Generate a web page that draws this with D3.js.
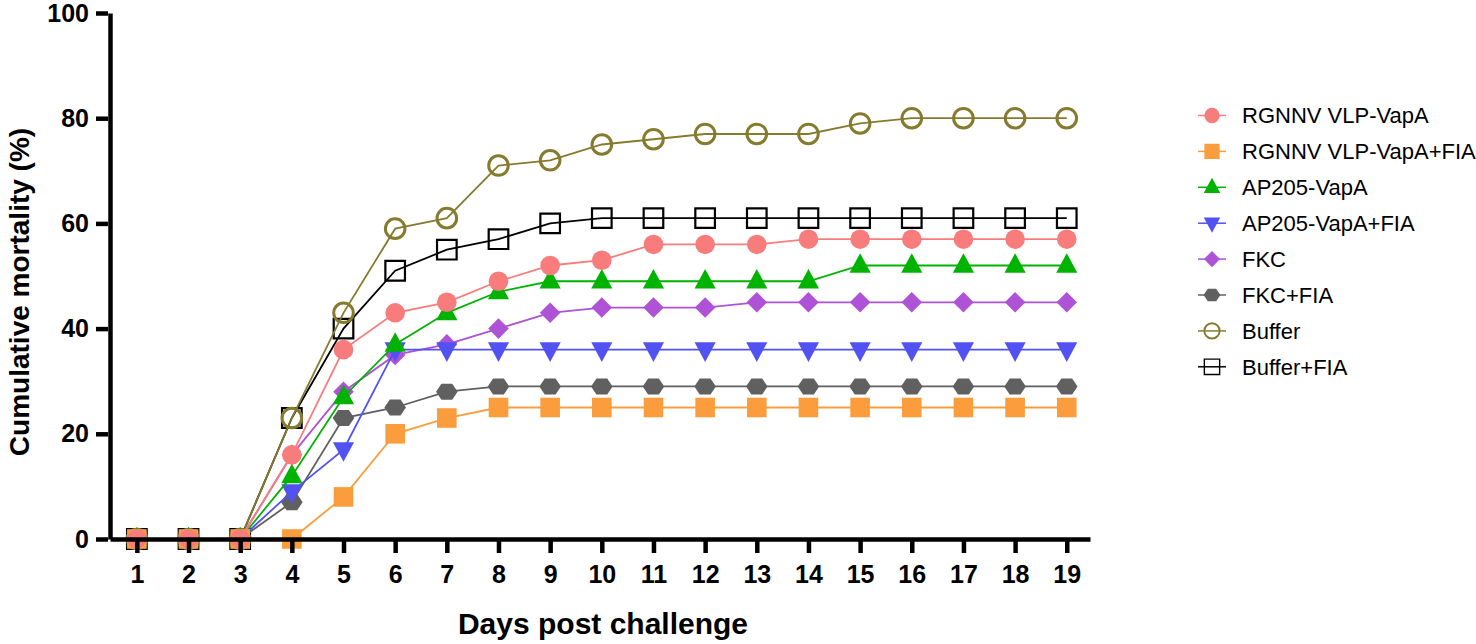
<!DOCTYPE html>
<html>
<head>
<meta charset="utf-8">
<script src="https://cdn.jsdelivr.net/npm/d3@7"></script>
<style>
  body { margin: 0; background: #fff; }
  svg { display: block; font-family: Arial, "Liberation Sans", Helvetica, sans-serif; }
</style>
</head>
<body>
<svg id="chart" width="1476" height="644"></svg>
<script>
// days on the x axis
const days = [1, 2, 3, 4, 5, 6, 7, 8, 9, 10, 11, 12, 13, 14, 15, 16, 17, 18, 19]
const yTicks = [0, 20, 40, 60, 80, 100]

// cumulative mortality (%) per group
const rgnnvVapA    = [0, 0, 0, 16, 36, 43, 45, 49, 52, 53, 56, 56, 56, 57, 57, 57, 57, 57, 57]
const rgnnvVapAFIA = [0, 0, 0, 0, 8, 20, 23, 25, 25, 25, 25, 25, 25, 25, 25, 25, 25, 25, 25]
const ap205VapA    = [0, 0, 0, 12, 27, 37, 43, 47, 49, 49, 49, 49, 49, 49, 52, 52, 52, 52, 52]
const ap205VapAFIA = [0, 0, 0, 9, 17, 36, 36, 36, 36, 36, 36, 36, 36, 36, 36, 36, 36, 36, 36]
const fkc          = [0, 0, 0, 16, 28, 35, 37, 40, 43, 44, 44, 44, 45, 45, 45, 45, 45, 45, 45]
const fkcFIA       = [0, 0, 0, 7, 23, 25, 28, 29, 29, 29, 29, 29, 29, 29, 29, 29, 29, 29, 29]
const buffer       = [0, 0, 0, 23, 43, 59, 61, 71, 72, 75, 76, 77, 77, 77, 79, 80, 80, 80, 80]
const bufferFIA    = [0, 0, 0, 23, 40, 51, 55, 57, 60, 61, 61, 61, 61, 61, 61, 61, 61, 61, 61]

const groupNames = ['RGNNV VLP-VapA', 'RGNNV VLP-VapA+FIA', 'AP205-VapA', 'AP205-VapA+FIA',
    'FKC', 'FKC+FIA', 'Buffer', 'Buffer+FIA']
const groupValues = [rgnnvVapA, rgnnvVapAFIA, ap205VapA, ap205VapAFIA, fkc, fkcFIA, buffer, bufferFIA]

// marker style per group
const styles = [
    { color: '#F87C7C', shape: 'circle', fill: true },
    { color: '#FB9D3C', shape: 'square', fill: true },
    { color: '#00B300', shape: 'triUp', fill: true },
    { color: '#5252F2', shape: 'triDown', fill: true },
    { color: '#AE52D6', shape: 'diamond', fill: true },
    { color: '#606060', shape: 'hexagon', fill: true },
    { color: '#857B2E', shape: 'circle', fill: false },
    { color: '#000000', shape: 'square', fill: false }
]

const series = groupNames.map((name, i) => ({
    name,
    style: styles[i],
    points: days.map((d, j) => ({ day: d, value: groupValues[i][j] }))
}))

const svg = d3.select('#chart')

const x = d3.scaleLinear().domain([0.48, 19.45]).range([110, 1090])
const y = d3.scaleLinear().domain([0, 100]).range([539, 13])

// marker path for a given shape, centred on 0,0
function markerPath(shape) {
    const r = 9.8
    switch (shape) {
        case 'circle': return d3.symbol(d3.symbolCircle, Math.PI * r * r)()
        case 'square': return `M${-r},${-r}H${r}V${r}H${-r}Z`
        case 'triUp': return `M0,${-r * 1.25}L${r * 1.08},${r * 0.75}L${-r * 1.08},${r * 0.75}Z`
        case 'triDown': return `M0,${r * 1.25}L${r * 1.08},${-r * 0.75}L${-r * 1.08},${-r * 0.75}Z`
        case 'diamond': return `M0,${-r * 1.05}L${r * 1.05},0L0,${r * 1.05}L${-r * 1.05},0Z`
        case 'hexagon': {
            const pts = d3.range(6).map(k => {
                const a = Math.PI / 3 * k
                return [Math.cos(a) * r * 1.1, Math.sin(a) * r * 0.95]
            })
            return 'M' + pts.join('L') + 'Z'
        }
    }
}

function styleMarker(sel, st, hollowWidth) {
    sel.attr('d', markerPath(st.shape))
        .attr('fill', st.fill ? st.color : 'none')
        .attr('stroke', st.fill ? 'none' : st.color)
        .attr('stroke-width', st.fill ? 0 : hollowWidth)
}

// lines + markers, last group drawn first so the first one ends up on top
const line = d3.line().x(d => x(d.day)).y(d => y(d.value))

const groups = svg.append('g')
    .selectAll('g')
    .data(series.slice().reverse())
    .join('g')

groups.append('path')
    .attr('d', d => line(d.points))
    .attr('fill', 'none')
    .attr('stroke', d => d.style.color)
    .attr('stroke-width', 1.8)

groups.each(function (s) {
    d3.select(this).selectAll('path.mark')
        .data(s.points)
        .join('path')
        .classed('mark', true)
        .attr('transform', d => `translate(${x(d.day)},${y(d.value)})`)
        .call(styleMarker, s.style, s.style.shape === 'circle' ? 3 : 2.2)
})

// axes
const xAxis = svg.append('g')
    .attr('transform', `translate(0,${y(0)})`)
    .call(d3.axisBottom(x).tickValues(days).tickSize(14).tickPadding(12).tickSizeOuter(0))
const yAxis = svg.append('g')
    .attr('transform', `translate(${x.range()[0]},0)`)
    .call(d3.axisLeft(y).tickValues(yTicks).tickSize(14).tickPadding(7).tickSizeOuter(0))

for (const ax of [xAxis, yAxis]) {
    ax.select('.domain').attr('stroke', '#000').attr('stroke-width', 4.5)
    ax.selectAll('.tick line').attr('stroke', '#000').attr('stroke-width', 4.5)
    ax.selectAll('.tick text')
        .attr('fill', '#000')
        .attr('font-size', 25)
        .attr('font-weight', 'bold')
        .attr('font-family', 'Arial, "Liberation Sans", sans-serif')
}
// ticks sit under the axis line
xAxis.selectAll('.tick line').attr('y1', 2)
yAxis.selectAll('.tick line').attr('x1', -2)

// axis titles
svg.append('text')
    .attr('x', 603)
    .attr('y', 634)
    .attr('text-anchor', 'middle')
    .attr('font-size', 30)
    .attr('font-weight', 'bold')
    .text('Days post challenge')

svg.append('text')
    .attr('transform', 'translate(29,292) rotate(-90)')
    .attr('text-anchor', 'middle')
    .attr('font-size', 28)
    .attr('font-weight', 'bold')
    .text('Cumulative mortality (%)')

// legend
const legend = svg.append('g')
    .attr('transform', 'translate(1212,115.5)')
    .selectAll('g')
    .data(series)
    .join('g')
    .attr('transform', (d, i) => `translate(0,${i * 35.9})`)

legend.append('line')
    .attr('x1', -14).attr('x2', 14)
    .attr('stroke', d => d.style.color)
    .attr('stroke-width', 1.5)

legend.append('path')
    .each(function (d) {
        d3.select(this).call(styleMarker, d.style, d.style.shape === 'circle' ? 2.5 : 1.8)
    })
    .attr('transform', 'scale(0.78)')

legend.append('text')
    .attr('x', 30)
    .attr('dy', '0.36em')
    .attr('font-size', 22)
    .attr('fill', '#000')
    .text(d => d.name)
</script>
</body>
</html>
